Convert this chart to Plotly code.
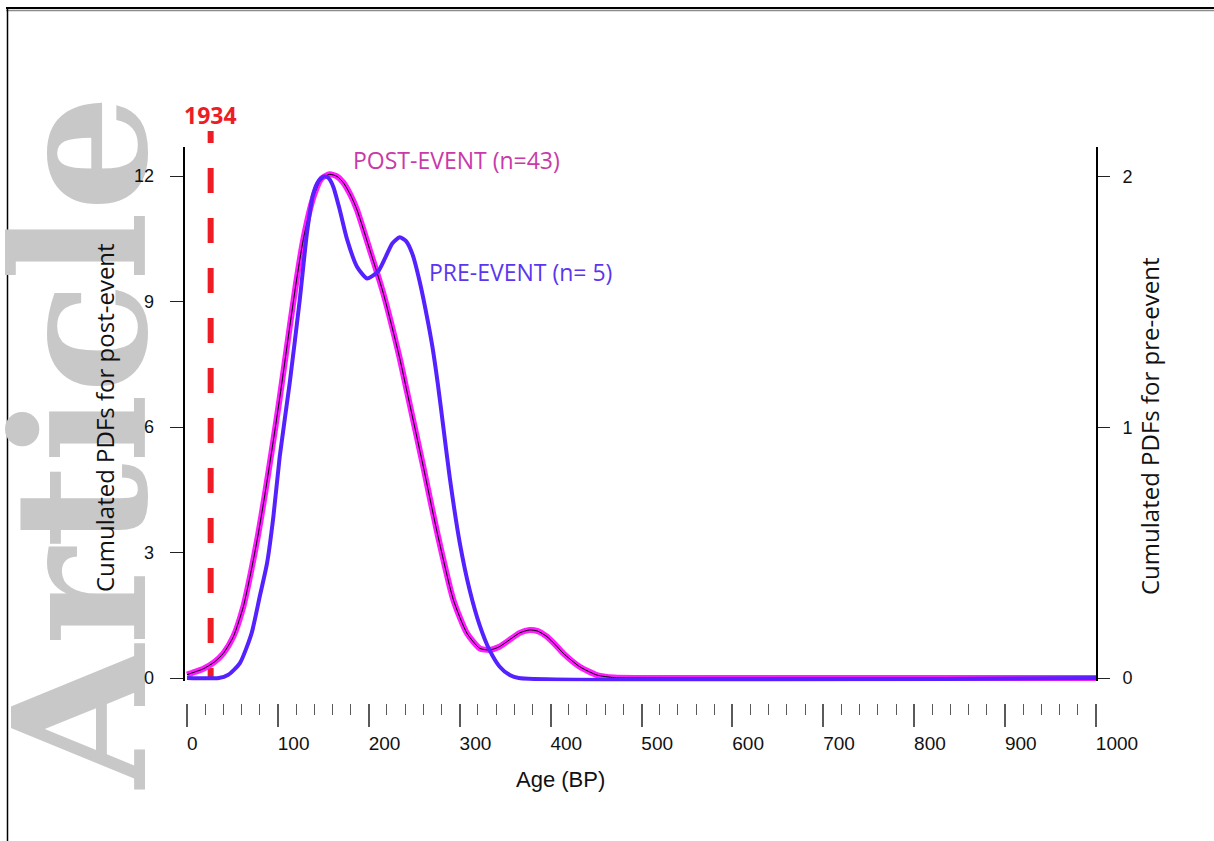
import plotly.graph_objects as go

# ---------------- data ----------------
post_age = [0, 8, 18, 30, 40, 51, 62, 70, 78, 85, 93, 102, 113, 120, 128, 139, 148, 157,
            165, 172, 180, 187, 201, 216, 234, 242, 253, 260, 275, 293, 308, 322, 333,
            343, 352, 366, 377, 386, 396, 405, 414, 432, 451, 470, 500, 1000]
post_pdf = [0.08, 0.14, 0.22, 0.38, 0.59, 0.99, 1.71, 2.5, 3.4, 4.3, 5.4, 6.7, 8.4,
            9.45, 10.5, 11.5, 11.95, 12.05, 12.0, 11.85, 11.55, 11.2, 10.25, 9.2, 7.65,
            6.85, 5.75, 5.05, 3.5, 1.87, 1.07, 0.71, 0.67, 0.74, 0.87, 1.08, 1.15, 1.12,
            0.99, 0.8, 0.59, 0.27, 0.07, 0.01, 0, 0]

pre_age = [0, 35, 45, 58, 71, 80, 88, 95, 102, 113, 124, 132, 139, 145, 151, 156, 161,
           168, 176, 187, 198, 210, 218, 226, 234, 241, 248, 256, 264, 270, 276, 282, 289,
           300, 311, 322, 333, 344, 355, 365, 1000]
pre_pdf = [0, 0, 0.012, 0.058, 0.178, 0.325, 0.457, 0.643, 0.883, 1.177, 1.507, 1.775,
           1.933, 1.983, 2.0, 1.992, 1.958, 1.867, 1.75, 1.64, 1.593, 1.62, 1.675, 1.733,
           1.757, 1.742, 1.69, 1.58, 1.44, 1.32, 1.17, 1.0, 0.8, 0.54, 0.35, 0.21, 0.11,
           0.045, 0.012, 0, 0]

sample_ages = [67, 101, 104, 107, 110, 122, 126, 129, 131, 133, 135, 139, 141, 143, 148,
               150, 152, 155, 160, 163, 166, 169, 172, 175, 178, 181, 184, 187, 190, 194,
               197, 201, 216, 222, 225, 229, 233, 236, 240, 242, 248, 273, 282, 335, 375, 379]
sample_raised = [0, 0, 0, 0, 0, 0, 0, 0, 0, 0, 0, 2, 0, 0, 2,
                 0, 0, 1, 0, 0, 0, 0, 0, 0, 0, 0, 0, 0, 0, 0,
                 0, 0, 0, 0, 0, 0, 0, 1, 1, 0, 2, 0, 0, 2, 0, 0]

event_year_bp = 26
event_label = "1934"

left_ticks = [0, 3, 6, 9, 12]
right_ticks = [0, 1, 2]
x_ticks = [0, 100, 200, 300, 400, 500, 600, 700, 800, 900, 1000]
x_minor = 20
scale_ratio = 6  # post-event axis units per pre-event axis unit

# ---------------- layout helpers ----------------
W, H = 1214, 841


def fx(p):
    return p / W


def fy(p):
    return 1 - p / H


Y_LO, Y_HI = -0.08, 12.7
X_LO, X_HI = -2, 1000
FIG_SP = "\u2007"  # figure space, pads labels so they start at the tick

fig = go.Figure()

line_shape = dict(shape="spline", smoothing=0.6)
fig.add_trace(go.Scatter(x=post_age, y=post_pdf, mode="lines",
                         line=dict(color="#ff1cff", width=6, **line_shape),
                         hoverinfo="skip"))
fig.add_trace(go.Scatter(x=post_age, y=post_pdf, mode="lines",
                         line=dict(color="#000000", width=1, **line_shape),
                         hoverinfo="skip"))
fig.add_trace(go.Scatter(x=sample_ages,
                         y=[-0.33 + 0.045 * r for r in sample_raised],
                         mode="markers", cliponaxis=False,
                         marker=dict(symbol="circle-open", size=13, color="#2a2a2a",
                                     line=dict(width=1, color="#2a2a2a")),
                         hoverinfo="skip"))
fig.add_trace(go.Scatter(x=pre_age, y=pre_pdf, mode="lines", yaxis="y2",
                         line=dict(color="#5522ff", width=4, **line_shape),
                         hoverinfo="skip"))

tick_font = dict(family="Liberation Sans, Arial, sans-serif", size=18, color="#111111")
title_font = dict(family="Open Sans, Noto Sans, sans-serif", size=24, color="#111111")

ydom = [fy(678 - Y_LO * 41.8), fy(678 - Y_HI * 41.8)]

x_text = [str(v) + FIG_SP * (4 - len(str(v))) for v in x_ticks]

common = dict(automargin=False, showgrid=False, zeroline=False)

fig.update_layout(
    width=W, height=H, autosize=False,
    margin=dict(l=0, r=0, t=0, b=0, pad=0, autoexpand=False),
    paper_bgcolor="white", plot_bgcolor="rgba(0,0,0,0)",
    showlegend=False,
    xaxis=dict(domain=[fx(185.2), fx(1096)], range=[X_LO, X_HI], anchor="free",
               position=fy(703), showline=False,
               tickmode="array", tickvals=x_ticks, ticktext=x_text, ticks="outside",
               ticklen=23, tickwidth=1.5, tickcolor="#5a5a5a",
               minor=dict(dtick=x_minor, tick0=0, ticks="outside", ticklen=11,
                          tickwidth=1.3, tickcolor="#5a5a5a", showgrid=False),
               ticklabelshift=21, ticklabelstandoff=0,
               tickfont=dict(family="Liberation Sans, Arial, sans-serif", size=19,
                             color="#111111"), **common),
    yaxis=dict(domain=ydom, range=[Y_LO, Y_HI], anchor="x", side="left",
               tickvals=left_ticks, ticks="outside", ticklen=13, tickwidth=1,
               tickcolor="#222222", showticklabels=False, showline=True,
               linewidth=2, linecolor="black", **common),
    yaxis2=dict(range=[Y_LO / scale_ratio, Y_HI / scale_ratio], overlaying="y",
                anchor="x", side="right", tickvals=right_ticks, ticks="outside",
                ticklen=12, tickwidth=1, tickcolor="#222222", showline=True,
                linewidth=2, linecolor="black",
                tickfont=tick_font, ticklabelstandoff=9, **common),
    yaxis3=dict(range=[Y_LO, Y_HI], overlaying="y", anchor="x", side="left",
                tickvals=left_ticks, ticks="inside", ticklen=11, tickwidth=1,
                tickcolor="#222222", showticklabels=False, showline=False, **common),
    yaxis4=dict(range=[Y_LO / scale_ratio, Y_HI / scale_ratio], overlaying="y",
                anchor="x", side="right", tickvals=right_ticks, ticks="inside",
                ticklen=12, tickwidth=1, tickcolor="#222222", showticklabels=False,
                showline=False, **common),
)

# event line (1934)
dash_pattern = "12px,25px" + ",25px,25px" * 11
fig.add_shape(type="line", xref="x", yref="paper", x0=event_year_bp, x1=event_year_bp,
              y0=fy(680), y1=fy(131), line=dict(color="#ee1c25", width=6, dash=dash_pattern),
              layer="below")

# page frame
fig.add_shape(type="line", xref="paper", yref="paper", x0=fx(6), x1=1, y0=fy(8), y1=fy(8),
              line=dict(color="black", width=2))
fig.add_shape(type="line", xref="paper", yref="paper", x0=fx(6), x1=1, y0=fy(10.5), y1=fy(10.5),
              line=dict(color="#8c8c8c", width=1.5))
fig.add_shape(type="line", xref="paper", yref="paper", x0=fx(7.5), x1=fx(7.5), y0=fy(7), y1=0,
              line=dict(color="black", width=1.5))

# watermark
fig.add_annotation(text="<b>Article</b>", xref="paper", yref="paper", x=fx(80), y=fy(442),
                   xanchor="center", yanchor="middle", showarrow=False, textangle=-90,
                   font=dict(family="DejaVu Serif", size=184, color="#c8c8c8"))

# left tick labels (drawn above watermark)
for v in left_ticks:
    fig.add_annotation(text=str(v), xref="paper", yref="y", x=fx(156), y=v,
                       xanchor="right", yanchor="middle", showarrow=False, font=tick_font)

fig.add_annotation(text="Cumulated PDFs for post-event", xref="paper", yref="paper",
                   x=fx(104), y=fy(418), xanchor="center", yanchor="middle",
                   textangle=-90, showarrow=False, font=title_font)
fig.add_annotation(text="Cumulated PDFs for pre-event", xref="paper", yref="paper",
                   x=fx(1149), y=fy(426), xanchor="center", yanchor="middle",
                   textangle=-90, showarrow=False, font=title_font)
fig.add_annotation(text="Age (BP)", xref="paper", yref="paper", x=fx(560), y=fy(779),
                   xanchor="center", yanchor="middle", showarrow=False,
                   font=dict(family="Liberation Sans, Arial, sans-serif", size=22,
                             color="#111111"))

fig.add_annotation(text="POST-EVENT (n=43)", xref="paper", yref="paper", x=fx(351),
                   y=fy(160), xanchor="left", yanchor="middle", showarrow=False,
                   font=dict(family="Open Sans, sans-serif", size=23, color="#c83aa8"))
fig.add_annotation(text="PRE-EVENT (n= 5)", xref="paper", yref="paper", x=fx(427),
                   y=fy(272), xanchor="left", yanchor="middle", showarrow=False,
                   font=dict(family="Open Sans, sans-serif", size=23, color="#5a36ee"))
fig.add_annotation(text="<b>" + event_label + "</b>", xref="x", yref="paper",
                   x=event_year_bp, y=fy(115), xanchor="center", yanchor="middle",
                   showarrow=False,
                   font=dict(family="Open Sans, sans-serif", size=23, color="#ee1c25"))

fig.write_html("out.html", config={"displayModeBar": False},
               post_script="document.body.style.margin='0';")
